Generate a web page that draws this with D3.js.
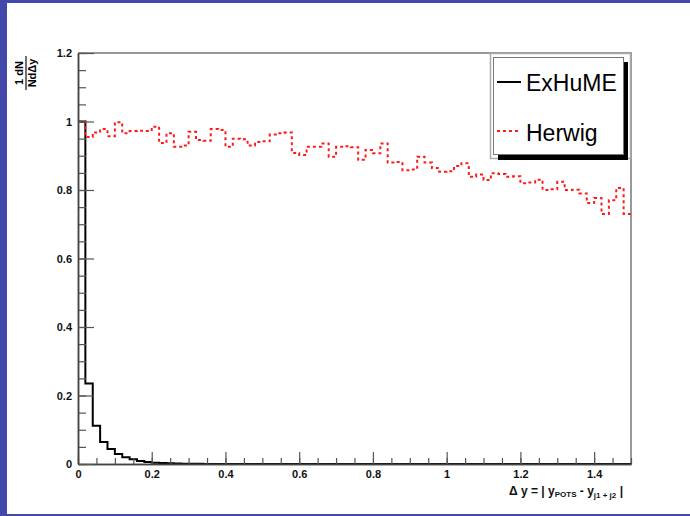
<!DOCTYPE html>
<html>
<head>
<meta charset="utf-8">
<script src="https://cdn.jsdelivr.net/npm/d3@7"></script>
<style>
  body { margin: 0; background: #fff; }
  svg { display: block; font-family: "Liberation Sans", Arial, sans-serif; }
</style>
</head>
<body>
<div id="chart"></div>
<script>
// ---- data: normalised 1/N dN/dDelta-y, 75 bins of 0.02 from 0 to 1.5
var binEdges = [0, 1.5];
var binWidth = 0.02;

var exhume = [1.0, 0.235, 0.112, 0.064, 0.044, 0.029, 0.020, 0.014, 0.009, 0.006,
    0.004, 0.003, 0.002, 0.0015, 0.001, 0.0008, 0.0005, 0.0003, 0, 0,
    0, 0, 0, 0, 0, 0, 0, 0, 0, 0,
    0, 0, 0, 0, 0, 0, 0, 0, 0, 0,
    0, 0, 0, 0, 0, 0, 0, 0, 0, 0,
    0, 0, 0, 0, 0, 0, 0, 0, 0, 0,
    0, 0, 0, 0, 0, 0, 0, 0, 0, 0,
    0, 0, 0, 0, 0];

var herwig = [1.0, 0.955, 0.968, 0.978, 0.957, 0.998, 0.966, 0.972, 0.973, 0.972,
    0.985, 0.937, 0.966, 0.926, 0.930, 0.970, 0.946, 0.944, 0.978, 0.975,
    0.926, 0.950, 0.948, 0.930, 0.940, 0.942, 0.962, 0.966, 0.968, 0.908,
    0.902, 0.926, 0.926, 0.936, 0.897, 0.926, 0.928, 0.925, 0.888, 0.917,
    0.907, 0.936, 0.880, 0.882, 0.858, 0.860, 0.897, 0.880, 0.864, 0.853,
    0.855, 0.870, 0.878, 0.839, 0.845, 0.829, 0.849, 0.847, 0.839, 0.840,
    0.820, 0.822, 0.830, 0.800, 0.802, 0.824, 0.800, 0.801, 0.790, 0.762,
    0.777, 0.730, 0.770, 0.806, 0.730];

var xMajor = [0, 0.2, 0.4, 0.6, 0.8, 1, 1.2, 1.4];
var yMajor = [0, 0.2, 0.4, 0.6, 0.8, 1, 1.2];
var legendNames = ["ExHuME", "Herwig"];

// ---- layout
var W = 690, H = 516;
var plotL = 78, plotR = 631, plotT = 53, plotB = 464;

var svg = d3.select("#chart").append("svg")
    .attr("width", W).attr("height", H);

// slide frame
svg.append("rect").attr("width", W).attr("height", H).attr("fill", "#4349aa");
svg.append("rect").attr("x", 7).attr("y", 3).attr("width", W - 7).attr("height", H - 5)
    .attr("fill", "#fff");

var x = d3.scaleLinear().domain(binEdges).range([plotL, plotR]);
var y = d3.scaleLinear().domain([0, 1.2]).range([plotB, plotT]);
var fmt = d3.format("~g");

// frame top/right
svg.append("path")
    .attr("d", "M" + x(0) + "," + y(1.2) + "H" + x(1.5) + "V" + y(0))
    .attr("fill", "none").attr("stroke", "#999").attr("stroke-width", 2);

// step path builder
function stepPath(vals) {
    var d = "M" + x(0) + "," + y(vals[0]);
    vals.forEach(function(v, i) {
        d += "H" + x((i + 1) * binWidth);
        if (i < vals.length - 1) d += "V" + y(vals[i + 1]);
    });
    return d;
}

svg.append("path")
    .attr("d", stepPath(exhume))
    .attr("fill", "none").attr("stroke", "#000").attr("stroke-width", 2);

svg.append("path")
    .attr("d", stepPath(herwig))
    .attr("fill", "none").attr("stroke", "#ff1a1a").attr("stroke-width", 2)
    .attr("stroke-dasharray", "3,3");

// axes
function styleAxis(g) {
    g.select(".domain").attr("stroke", "#444").attr("stroke-width", 1.5);
    g.selectAll(".tick line").attr("stroke", "#555").attr("stroke-width", 1.2);
    g.selectAll("text").attr("font-size", 11).attr("font-weight", "bold")
        .attr("fill", "#111").attr("font-family", "'Liberation Sans', Arial, sans-serif");
}

svg.append("g")
    .attr("transform", "translate(0," + plotB + ")")
    .call(d3.axisBottom(x).ticks(30).tickSize(-6).tickFormat("").tickSizeOuter(0))
    .call(styleAxis);
svg.append("g")
    .attr("transform", "translate(0," + plotB + ")")
    .call(d3.axisBottom(x).tickValues(xMajor).tickSize(-12).tickPadding(6)
        .tickFormat(fmt).tickSizeOuter(0))
    .call(styleAxis);

svg.append("g")
    .attr("transform", "translate(" + plotL + ",0)")
    .call(d3.axisLeft(y).ticks(24).tickSize(-8).tickFormat("").tickSizeOuter(0))
    .call(styleAxis);
svg.append("g")
    .attr("transform", "translate(" + plotL + ",0)")
    .call(d3.axisLeft(y).tickValues(yMajor).tickSize(-16).tickPadding(6)
        .tickFormat(fmt).tickSizeOuter(0))
    .call(styleAxis);

// x title
var xt = svg.append("text")
    .attr("x", 623).attr("y", 495)
    .attr("text-anchor", "end")
    .attr("font-size", 12).attr("font-weight", "bold").attr("fill", "#111");
xt.append("tspan").text("\u0394 y = | y");
xt.append("tspan").attr("font-size", 8).attr("dy", 2).text("POTS");
xt.append("tspan").attr("dy", -2).text(" - y");
xt.append("tspan").attr("font-size", 8).attr("dy", 3).text("j1 + j2");
xt.append("tspan").attr("dy", -3).text(" |");

// y title (fraction)
var yt = svg.append("g").attr("transform", "translate(26,73) rotate(-90)");
yt.append("text").attr("x", 0).attr("y", -3).attr("text-anchor", "middle")
    .attr("font-size", 11).attr("font-weight", "bold").text("1 dN");
yt.append("line").attr("x1", -17).attr("x2", 17).attr("y1", 0).attr("y2", 0)
    .attr("stroke", "#111").attr("stroke-width", 1.2);
yt.append("text").attr("x", 0).attr("y", 10).attr("text-anchor", "middle")
    .attr("font-size", 11).attr("font-weight", "bold").text("Nd\u0394y");

// legend
svg.append("rect").attr("x", 490.5).attr("y", 53.5).attr("width", 140).attr("height", 105)
    .attr("fill", "none").attr("stroke", "#aaa").attr("stroke-width", 1.5);
svg.append("rect").attr("x", 498).attr("y", 62).attr("width", 130).attr("height", 98)
    .attr("fill", "#000");
svg.append("rect").attr("x", 493.5).attr("y", 57.5).attr("width", 130).attr("height", 97)
    .attr("fill", "#fff").attr("stroke", "#777").attr("stroke-width", 1);

var leg = svg.append("g");
leg.append("line").attr("x1", 497).attr("x2", 521).attr("y1", 82).attr("y2", 82)
    .attr("stroke", "#000").attr("stroke-width", 2);
leg.append("line").attr("x1", 497).attr("x2", 521).attr("y1", 131).attr("y2", 131)
    .attr("stroke", "#ff1a1a").attr("stroke-width", 2).attr("stroke-dasharray", "3,3");
leg.selectAll("text.lg").data(legendNames).enter().append("text")
    .attr("class", "lg")
    .attr("x", 526).attr("y", function(d, i) { return 91 + i * 50; })
    .attr("font-size", 23).attr("fill", "#000")
    .text(function(d) { return d; });
</script>
</body>
</html>
